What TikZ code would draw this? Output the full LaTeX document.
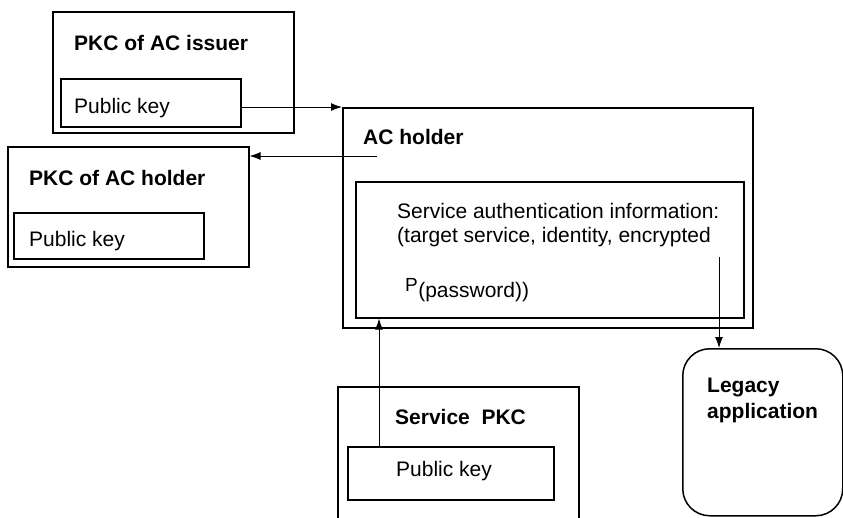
\documentclass[tikz,border=0pt]{standalone}
\usepackage{fontspec}
\setmainfont{Liberation Sans}
\usetikzlibrary{positioning}
\usetikzlibrary{arrows.meta}

\begin{document}
\begin{tikzpicture}[x=1pt, y=-1pt, font=\fontsize{21pt}{25pt}\selectfont,
	box/.style={draw, line width=1.5pt, inner sep=0pt, anchor=north west},
	lbl/.style={anchor=base west, inner sep=0pt},
	conn/.style={line width=1pt, -{Latex[length=11pt,width=8pt]}}]
	\useasboundingbox (0,0) rectangle (843,517);
	\clip (0,0) rectangle (843,517);
	% certificates on the left
	\node[box, minimum width=241, minimum height=121] (issuer) at (52,11) {};
	\node[box, minimum width=180, minimum height=48] (issuerkey) at (60,78) {};
	\node[lbl, font=\fontsize{21pt}{25pt}\bfseries] (issuertitle) at (74,50) {PKC of AC issuer};
	\node[lbl] (issuerkeytext) at (74,113) {Public key};
	\node[box, minimum width=241, minimum height=120] (holderpkc) at (7,146) {};
	\node[box, minimum width=190, minimum height=46] (holderkey) at (13,212) {};
	\node[lbl, font=\fontsize{21pt}{25pt}\bfseries] (holdertitle) at (29,185) {PKC of AC holder};
	\node[lbl] (holderkeytext) at (29,246) {Public key};
	% AC holder
	\node[box, minimum width=410, minimum height=220] (acholder) at (342,107) {};
	\node[box, minimum width=388, minimum height=136] (sainfo) at (355,181) {};
	\node[lbl, font=\fontsize{21pt}{25pt}\bfseries] (actitle) at (363,144) {AC holder};
	\node[lbl] (saline1) at (397,218) {Service authentication information:};
	\node[lbl] (saline2) at (397,242) {(target service, identity, encrypted};
	\node[lbl, font=\fontsize{19pt}{22pt}\selectfont] (pwdp) at (405,291) {P};
	\node[lbl] (pwd) at (pwdp.base east) {\raisebox{-6pt}{(password))}};
	% service and legacy
	\node[box, minimum width=241, minimum height=200] (service) at (337,386) {};
	\node[box, minimum width=206, minimum height=53] (servicekey) at (347,446) {};
	\node[lbl, font=\fontsize{21pt}{25pt}\bfseries] (servicetitle) at (395,424) {Service\ \ PKC};
	\node[lbl] (servicekeytext) at (396,476) {Public key};
	\node[box, rounded corners=27pt, minimum width=160, minimum height=167] (legacy) at (682,348) {};
	\node[lbl, font=\fontsize{21pt}{26pt}\bfseries, align=left, anchor=north west] (legacytext) at (707,378) {Legacy\\application};
	% connectors
	\coordinate (acout) at (377,156);
	\coordinate (keyup) at (379,446);
	\coordinate (sadown) at (719,257);
	\draw[conn] (issuerkey.east |- acholder.north west) -- (acholder.north west);
	\draw[conn] (acout) -- (acout -| holderpkc.east);
	\draw[conn] (keyup) -- (keyup |- sainfo.south);
	\draw[conn] (sadown) -- (sadown |- legacy.north);
\end{tikzpicture}
\end{document}
